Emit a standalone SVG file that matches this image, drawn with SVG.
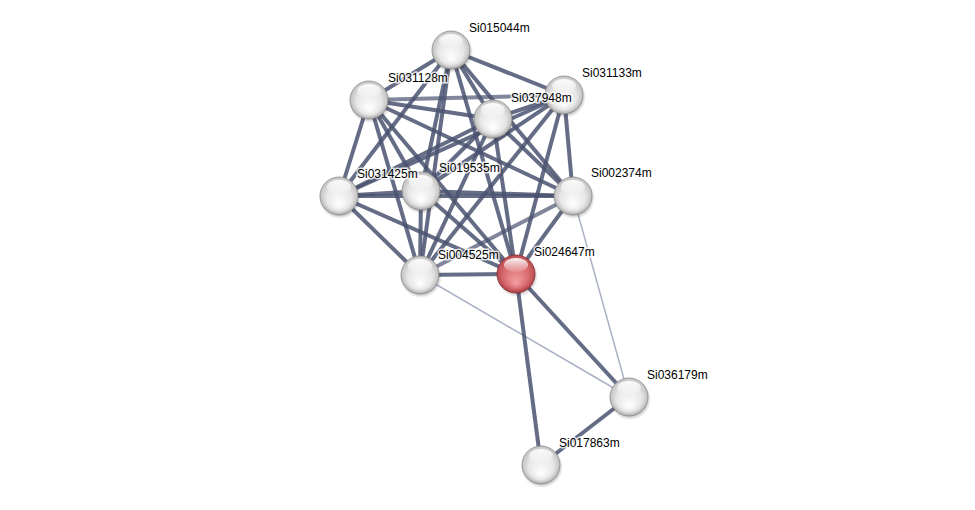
<svg xmlns="http://www.w3.org/2000/svg" width="975" height="510" viewBox="0 0 975 510">
<defs>
<radialGradient id="gw" cx="50%" cy="40%" r="60%" fx="50%" fy="75%">
<stop offset="0" stop-color="#ffffff"/>
<stop offset="0.55" stop-color="#e6e6e6"/>
<stop offset="1" stop-color="#a8a8a8"/>
</radialGradient>
<radialGradient id="gr" cx="50%" cy="40%" r="60%" fx="50%" fy="75%">
<stop offset="0" stop-color="#f4a0a4"/>
<stop offset="0.55" stop-color="#d96a6e"/>
<stop offset="1" stop-color="#a33a3e"/>
</radialGradient>
<linearGradient id="hl" x1="0" y1="0" x2="0" y2="1">
<stop offset="0" stop-color="#ffffff" stop-opacity="0.95"/>
<stop offset="1" stop-color="#ffffff" stop-opacity="0.1"/>
</linearGradient>
<radialGradient id="sh" cx="50%" cy="50%" r="50%">
<stop offset="0.7" stop-color="#000" stop-opacity="0.35"/>
<stop offset="1" stop-color="#000" stop-opacity="0"/>
</radialGradient>
</defs>
<style>
.e{stroke:#4a5270;stroke-width:4;stroke-opacity:0.85;fill:none}
.t{stroke:#aab0c6;stroke-width:1.5;fill:none}
.lb{font-family:"Liberation Sans",Arial,sans-serif;font-size:12px;fill:#000;stroke:#fff;stroke-width:3;stroke-opacity:0.8;paint-order:stroke}
.s{fill:url(#sh)}
.w{fill:url(#gw);stroke:#8a8a8a;stroke-width:0.8}
.r{fill:url(#gr);stroke:#8a2a2e;stroke-width:0.8}
.h{fill:url(#hl)}
</style>
<rect width="975" height="510" fill="#fff"/>
<g id="edges">
<line class="t" x1="420" y1="275" x2="629" y2="397"/>
<line class="t" x1="573" y1="196" x2="629" y2="397"/>
<line class="e" x1="516" y1="274" x2="629" y2="397"/>
<line class="e" x1="516" y1="274" x2="541" y2="465"/>
<line class="e" x1="629" y1="397" x2="541" y2="465"/>
<line class="e" x1="451" y1="50" x2="369" y2="100"/>
<line class="e" x1="451" y1="50" x2="564" y2="95"/>
<line class="e" x1="451" y1="50" x2="493" y2="119"/>
<line class="e" x1="451" y1="50" x2="339" y2="196"/>
<line class="e" x1="451" y1="50" x2="421" y2="191"/>
<line class="e" x1="451" y1="50" x2="573" y2="196"/>
<line class="e" x1="451" y1="50" x2="420" y2="275"/>
<line class="e" x1="451" y1="50" x2="516" y2="274"/>
<line class="e" x1="369" y1="100" x2="564" y2="95" style="stroke-opacity:0.7"/>
<line class="e" x1="369" y1="100" x2="493" y2="119"/>
<line class="e" x1="369" y1="100" x2="339" y2="196"/>
<line class="e" x1="369" y1="100" x2="421" y2="191"/>
<line class="e" x1="369" y1="100" x2="573" y2="196"/>
<line class="e" x1="369" y1="100" x2="420" y2="275"/>
<line class="e" x1="369" y1="100" x2="516" y2="274"/>
<line class="e" x1="564" y1="95" x2="493" y2="119"/>
<line class="e" x1="564" y1="95" x2="339" y2="196"/>
<line class="e" x1="564" y1="95" x2="421" y2="191"/>
<line class="e" x1="564" y1="95" x2="573" y2="196"/>
<line class="e" x1="564" y1="95" x2="420" y2="275"/>
<line class="e" x1="564" y1="95" x2="516" y2="274"/>
<line class="e" x1="493" y1="119" x2="339" y2="196"/>
<line class="e" x1="493" y1="119" x2="421" y2="191"/>
<line class="e" x1="493" y1="119" x2="573" y2="196"/>
<line class="e" x1="493" y1="119" x2="420" y2="275"/>
<line class="e" x1="493" y1="119" x2="516" y2="274"/>
<line class="e" x1="339" y1="196" x2="421" y2="191"/>
<line class="e" x1="339" y1="196" x2="573" y2="196"/>
<line class="e" x1="339" y1="196" x2="420" y2="275"/>
<line class="e" x1="339" y1="196" x2="516" y2="274"/>
<line class="e" x1="421" y1="191" x2="573" y2="196"/>
<line class="e" x1="421" y1="191" x2="420" y2="275"/>
<line class="e" x1="421" y1="191" x2="516" y2="274"/>
<line class="e" x1="573" y1="196" x2="420" y2="275" style="stroke-opacity:0.7"/>
<line class="e" x1="573" y1="196" x2="516" y2="274"/>
<line class="e" x1="420" y1="275" x2="516" y2="274"/>
</g>
<g id="Si015044m"><circle class="s" cx="452" cy="52" r="21"/><circle class="w" cx="451" cy="50" r="19"/><ellipse class="h" cx="451" cy="41" rx="12" ry="7"/><text class="lb" x="469" y="32">Si015044m</text></g>
<g id="Si031128m"><circle class="s" cx="370" cy="102" r="21"/><circle class="w" cx="369" cy="100" r="19"/><ellipse class="h" cx="369" cy="91" rx="12" ry="7"/><text class="lb" x="388" y="82">Si031128m</text></g>
<g id="Si031133m"><circle class="s" cx="565" cy="97" r="21"/><circle class="w" cx="564" cy="95" r="19"/><ellipse class="h" cx="564" cy="86" rx="12" ry="7"/><text class="lb" x="582" y="77">Si031133m</text></g>
<g id="Si037948m"><circle class="s" cx="494" cy="121" r="21"/><circle class="w" cx="493" cy="119" r="19"/><ellipse class="h" cx="493" cy="110" rx="12" ry="7"/><text class="lb" x="511" y="102">Si037948m</text></g>
<g id="Si019535m"><circle class="s" cx="422" cy="193" r="21"/><circle class="w" cx="421" cy="191" r="19"/><ellipse class="h" cx="421" cy="182" rx="12" ry="7"/><text class="lb" x="439" y="172">Si019535m</text></g>
<g id="Si031425m"><circle class="s" cx="340" cy="198" r="21"/><circle class="w" cx="339" cy="196" r="19"/><ellipse class="h" cx="339" cy="187" rx="12" ry="7"/><text class="lb" x="357" y="178">Si031425m</text></g>
<g id="Si002374m"><circle class="s" cx="574" cy="198" r="21"/><circle class="w" cx="573" cy="196" r="19"/><ellipse class="h" cx="573" cy="187" rx="12" ry="7"/><text class="lb" x="591" y="177">Si002374m</text></g>
<g id="Si024647m"><circle class="s" cx="517" cy="276" r="21"/><circle class="r" cx="516" cy="274" r="19"/><ellipse class="h" cx="516" cy="265" rx="12" ry="7"/><text class="lb" x="534" y="256">Si024647m</text></g>
<g id="Si004525m"><circle class="s" cx="421" cy="277" r="21"/><circle class="w" cx="420" cy="275" r="19"/><ellipse class="h" cx="420" cy="266" rx="12" ry="7"/><text class="lb" x="438" y="259">Si004525m</text></g>
<g id="Si036179m"><circle class="s" cx="630" cy="399" r="21"/><circle class="w" cx="629" cy="397" r="19"/><ellipse class="h" cx="629" cy="388" rx="12" ry="7"/><text class="lb" x="647" y="379">Si036179m</text></g>
<g id="Si017863m"><circle class="s" cx="542" cy="467" r="21"/><circle class="w" cx="541" cy="465" r="19"/><ellipse class="h" cx="541" cy="456" rx="12" ry="7"/><text class="lb" x="559" y="447">Si017863m</text></g>
</svg>
